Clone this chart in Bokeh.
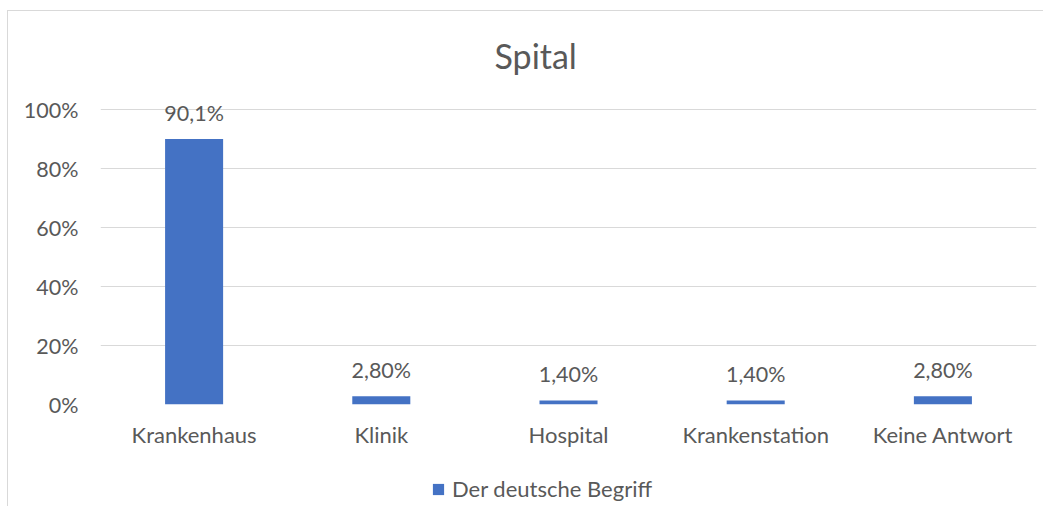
from bokeh.plotting import figure
from bokeh.layouts import column
from bokeh.models import (ColumnDataSource, Legend, LegendItem,
                          NumeralTickFormatter, FixedTicker, Range1d)
from bokeh.core.properties import value
from bokeh.embed import file_html
from bokeh.resources import INLINE

categories = ["Krankenhaus", "Klinik", "Hospital", "Krankenstation", "Keine Antwort"]
values = [0.901, 0.028, 0.014, 0.014, 0.028]
value_labels = ["90,1%", "2,80%", "1,40%", "1,40%", "2,80%"]
series_name = "Der deutsche Begriff"
title_text = "Spital"
y_ticks = [0, 0.2, 0.4, 0.6, 0.8, 1.0]

FONT = "Lato"
GRAY = "#595959"
BLUE = "#4472C4"

src = ColumnDataSource(dict(cat=categories, val=values, lab=value_labels))

p = figure(x_range=categories, y_range=Range1d(0, 1.1),
           width=1035, height=449, output_backend="svg", toolbar_location=None,
           min_border_left=92, min_border_right=7, min_border_top=69,
           min_border_bottom=56)
p.outline_line_color = None
p.background_fill_color = "white"
p.border_fill_color = "white"

p.title.text = title_text
p.title.align = "left"
p.title.offset = 394
p.title.standoff = 9
p.title.text_font = FONT
p.title.text_font_size = "34px"
p.title.text_font_style = "normal"
p.title.text_color = GRAY

r = p.vbar(x="cat", top="val", width=0.31, source=src, fill_color=BLUE, line_color=None)

p.text(x="cat", y="val", text="lab", source=src, text_align="center",
       text_baseline="middle", y_offset=-26, text_font=value(FONT),
       text_font_size="21.5px", text_color=GRAY)

p.xgrid.grid_line_color = None
p.ygrid.grid_line_color = "#d9d9d9"
p.ygrid.grid_line_width = 1

p.yaxis.ticker = FixedTicker(ticks=y_ticks)
p.yaxis.formatter = NumeralTickFormatter(format="0%")
for ax in (p.xaxis, p.yaxis):
    ax.axis_line_color = None
    ax.major_tick_line_color = None
    ax.minor_tick_line_color = None
    ax.major_tick_in = 0
    ax.major_tick_out = 0
    ax.major_label_text_font = FONT
    ax.major_label_text_color = GRAY
p.yaxis.major_label_standoff = 22
p.yaxis.major_label_text_font_size = "21.5px"
p.xaxis.major_label_text_font_size = "22px"
p.xaxis.major_label_standoff = 16

# legend strip below the chart (its frame is aligned with the chart's frame)
p2 = figure(x_range=categories, y_range=Range1d(2, 3),
            width=1035, height=46, output_backend="svg", toolbar_location=None,
            x_axis_location=None, y_axis_location=None,
            min_border_left=0, min_border_right=0, min_border_top=0,
            min_border_bottom=0)
p2.outline_line_color = None
p2.background_fill_color = "white"
p2.border_fill_color = "white"
p2.grid.visible = False
r2 = p2.vbar(x="cat", top="val", width=0.31, source=src, fill_color=BLUE, line_color=None)

legend = Legend(items=[LegendItem(label=series_name, renderers=[r2])],
                location=(331, 4), orientation="horizontal",
                padding=0, margin=0, border_line_color=None,
                background_fill_alpha=0, glyph_width=14, glyph_height=14,
                label_standoff=7, label_text_font=FONT,
                label_text_font_size="22px", label_text_color=GRAY)
p2.add_layout(legend, "center")

inner = column(p, p2, spacing=0)
inner.styles = {"border-left": "1px solid #d9d9d9", "border-top": "1px solid #d9d9d9"}
outer = column(inner, spacing=0)
outer.styles = {"padding-left": "7px", "padding-top": "10px"}

open("out.html", "w").write(file_html(outer, INLINE))
